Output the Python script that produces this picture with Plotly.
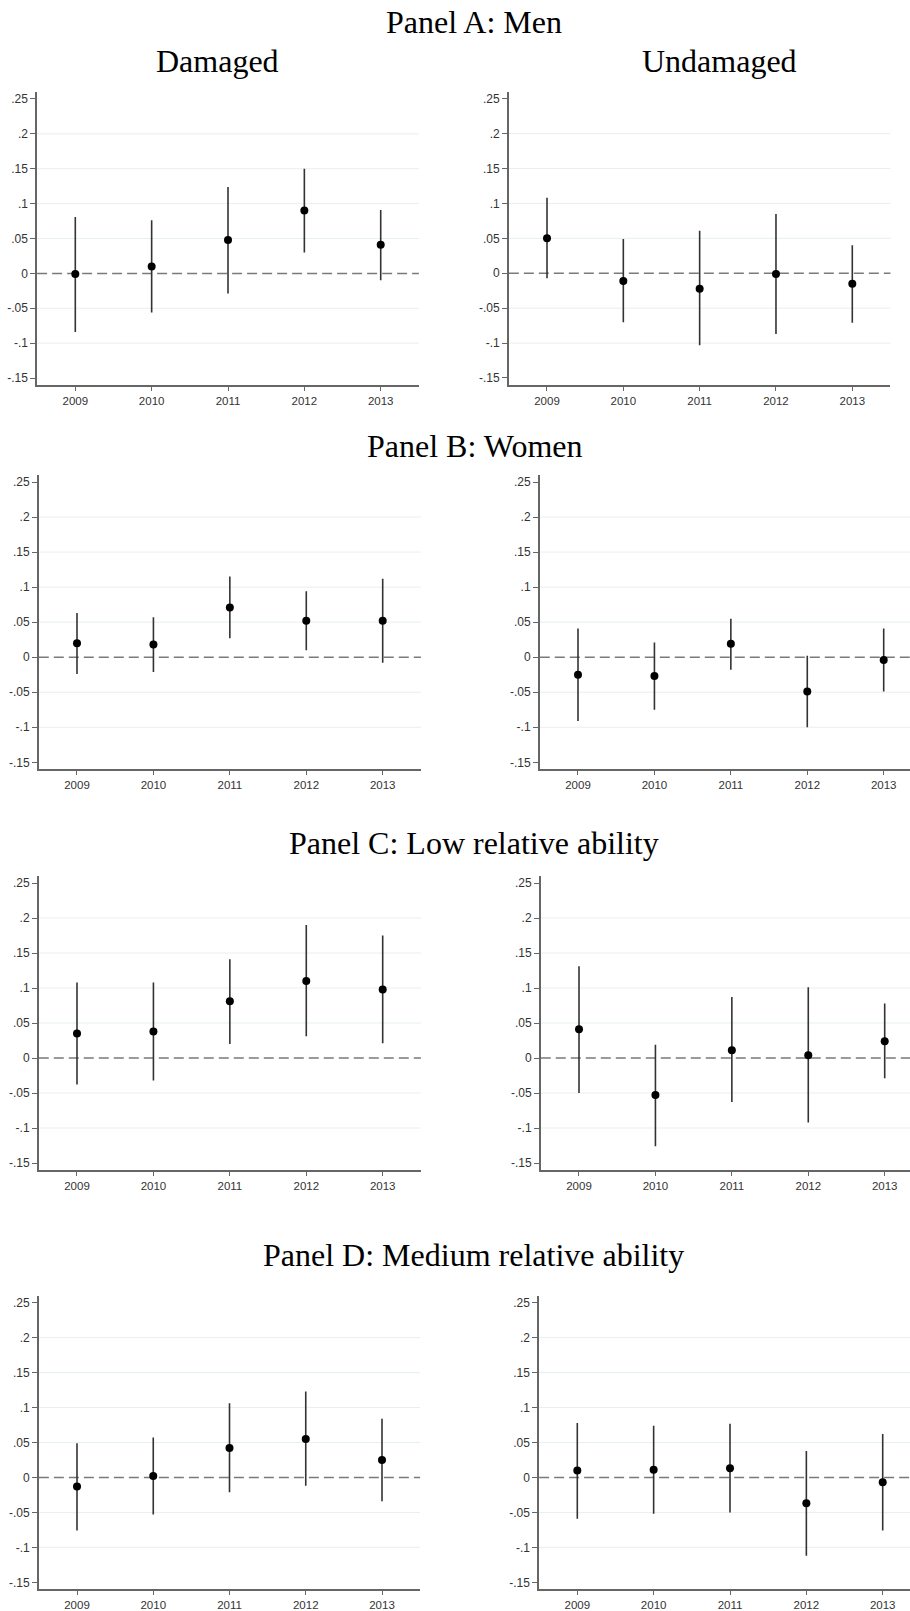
import plotly.graph_objects as go

W, H = 910, 1611

years = [2009, 2010, 2011, 2012, 2013]
year_labels = ["2009", "2010", "2011", "2012", "2013"]
ytick_vals = [0.25, 0.2, 0.15, 0.1, 0.05, 0, -0.05, -0.1, -0.15]
ytick_text = [".25", ".2", ".15", ".1", ".05", "0", "-.05", "-.1", "-.15"]
grid_vals = [0.2, 0.15, 0.1, 0.05, -0.05, -0.1]

# Panel A: Men
men_dam_est = [-0.001, 0.010, 0.048, 0.090, 0.041]
men_dam_lo = [-0.084, -0.056, -0.029, 0.030, -0.010]
men_dam_hi = [0.081, 0.076, 0.124, 0.150, 0.091]
men_und_est = [0.050, -0.011, -0.022, -0.001, -0.015]
men_und_lo = [-0.007, -0.070, -0.103, -0.087, -0.071]
men_und_hi = [0.108, 0.049, 0.061, 0.085, 0.040]

# Panel B: Women
women_dam_est = [0.020, 0.018, 0.071, 0.052, 0.052]
women_dam_lo = [-0.024, -0.021, 0.027, 0.010, -0.008]
women_dam_hi = [0.063, 0.057, 0.115, 0.094, 0.112]
women_und_est = [-0.025, -0.027, 0.019, -0.049, -0.004]
women_und_lo = [-0.091, -0.075, -0.018, -0.100, -0.049]
women_und_hi = [0.041, 0.021, 0.055, 0.002, 0.041]

# Panel C: Low relative ability
low_dam_est = [0.035, 0.038, 0.081, 0.110, 0.098]
low_dam_lo = [-0.038, -0.032, 0.020, 0.031, 0.021]
low_dam_hi = [0.108, 0.108, 0.141, 0.190, 0.175]
low_und_est = [0.041, -0.053, 0.011, 0.004, 0.024]
low_und_lo = [-0.050, -0.126, -0.063, -0.092, -0.029]
low_und_hi = [0.131, 0.019, 0.087, 0.101, 0.078]

# Panel D: Medium relative ability
med_dam_est = [-0.013, 0.002, 0.042, 0.055, 0.025]
med_dam_lo = [-0.076, -0.053, -0.021, -0.012, -0.034]
med_dam_hi = [0.049, 0.057, 0.106, 0.123, 0.084]
med_und_est = [0.010, 0.011, 0.013, -0.037, -0.007]
med_und_lo = [-0.059, -0.052, -0.050, -0.112, -0.076]
med_und_hi = [0.078, 0.074, 0.077, 0.038, 0.062]

panels = [
    (men_dam_est, men_dam_lo, men_dam_hi),
    (men_und_est, men_und_lo, men_und_hi),
    (women_dam_est, women_dam_lo, women_dam_hi),
    (women_und_est, women_und_lo, women_und_hi),
    (low_dam_est, low_dam_lo, low_dam_hi),
    (low_und_est, low_und_lo, low_und_hi),
    (med_dam_est, med_dam_lo, med_dam_hi),
    (med_und_est, med_und_lo, med_und_hi),
]

# Pixel frame of each subplot: x of first/last year, y of .25 and -.15 ticks
frames = [
    (75.3, 380.7, 99.0, 378.0),
    (547.0, 852.3, 98.7, 378.0),
    (77.0, 382.7, 482.0, 762.3),
    (578.0, 883.7, 482.0, 762.3),
    (77.0, 382.7, 883.0, 1163.0),
    (579.0, 884.7, 883.0, 1163.0),
    (77.0, 382.0, 1302.7, 1582.3),
    (577.3, 882.7, 1302.7, 1582.3),
]

Y_LO, Y_HI = -0.16, 0.26
AXIS_COL = "#666666"
XTICK_FONT = dict(family="Liberation Sans, Arial, sans-serif", size=11.5, color="#333333")
YTICK_FONT = dict(family="Liberation Sans, Arial, sans-serif", size=12, color="#333333")

fig = go.Figure()
layout = {}
shapes = []

for i, ((est, lo, hi), (x0p, x1p, y25, ym15)) in enumerate(zip(panels, frames)):
    n = i + 1
    sfx = "" if n == 1 else str(n)
    ppy = (x1p - x0p) / 4.0
    left = x0p - 0.5 * ppy
    right = x1p + 0.5 * ppy
    x_end = 2013.5
    if right > W:
        right = W
        x_end = 2013 + (W - x1p) / ppy
    ppu = (ym15 - y25) / 0.4
    top = y25 - (Y_HI - 0.25) * ppu
    bottom = ym15 + (-0.15 - Y_LO) * ppu

    layout["xaxis" + sfx] = dict(
        domain=[left / W, right / W], range=[2008.5, x_end],
        anchor="y" + sfx, tickmode="array", tickvals=years, ticktext=year_labels,
        ticks="outside", ticklen=4, tickwidth=1, tickcolor=AXIS_COL,
        showline=True, linecolor=AXIS_COL, linewidth=1.5,
        showgrid=False, zeroline=False, tickfont=XTICK_FONT, fixedrange=True,
    )
    layout["yaxis" + sfx] = dict(
        domain=[1 - bottom / H, 1 - top / H], range=[Y_LO, Y_HI],
        anchor="x" + sfx, tickmode="array", tickvals=ytick_vals, ticktext=ytick_text,
        ticks="outside", ticklen=5, tickwidth=1, tickcolor=AXIS_COL,
        showline=True, linecolor=AXIS_COL, linewidth=1.5,
        showgrid=False, zeroline=False, tickfont=YTICK_FONT, fixedrange=True,
    )

    for g in grid_vals:
        shapes.append(dict(
            type="line", xref="x" + sfx + " domain", yref="y" + sfx,
            x0=0, x1=1, y0=g, y1=g, layer="below",
            line=dict(color="#e6eff1", width=1),
        ))
    shapes.append(dict(
        type="line", xref="x" + sfx + " domain", yref="y" + sfx,
        x0=0, x1=1, y0=0, y1=0, layer="below",
        line=dict(color="#7a7a7a", width=1.5, dash="10px,5px"),
    ))

    fig.add_trace(go.Scatter(
        x=years, y=est, mode="markers",
        marker=dict(size=8, color="black"),
        error_y=dict(
            type="data", symmetric=False,
            array=[h - e for h, e in zip(hi, est)],
            arrayminus=[e - l for e, l in zip(est, lo)],
            thickness=1.6, width=0, color="#333333",
        ),
        xaxis="x" + sfx, yaxis="y" + sfx, showlegend=False, hoverinfo="x+y",
    ))

TITLE_FONT = dict(family="Liberation Serif, Times New Roman, serif", size=32, color="black")
titles = [
    ("Panel A: Men", 474, 21.8),
    ("Damaged", 217.5, 61.2),
    ("Undamaged", 719.5, 61.2),
    ("Panel B: Women", 474, 445.5),
    ("Panel C: Low relative ability", 474, 842.8),
    ("Panel D: Medium relative ability", 473.5, 1255.2),
]
annotations = [
    dict(text=t, x=xp / W, y=1 - yp / H, xref="paper", yref="paper",
         xanchor="center", yanchor="middle", showarrow=False, font=TITLE_FONT)
    for t, xp, yp in titles
]

fig.update_layout(
    width=W, height=H, margin=dict(l=0, r=0, t=0, b=0),
    paper_bgcolor="white", plot_bgcolor="white",
    shapes=shapes, annotations=annotations, showlegend=False,
    **layout,
)

fig.write_html("out.html")
